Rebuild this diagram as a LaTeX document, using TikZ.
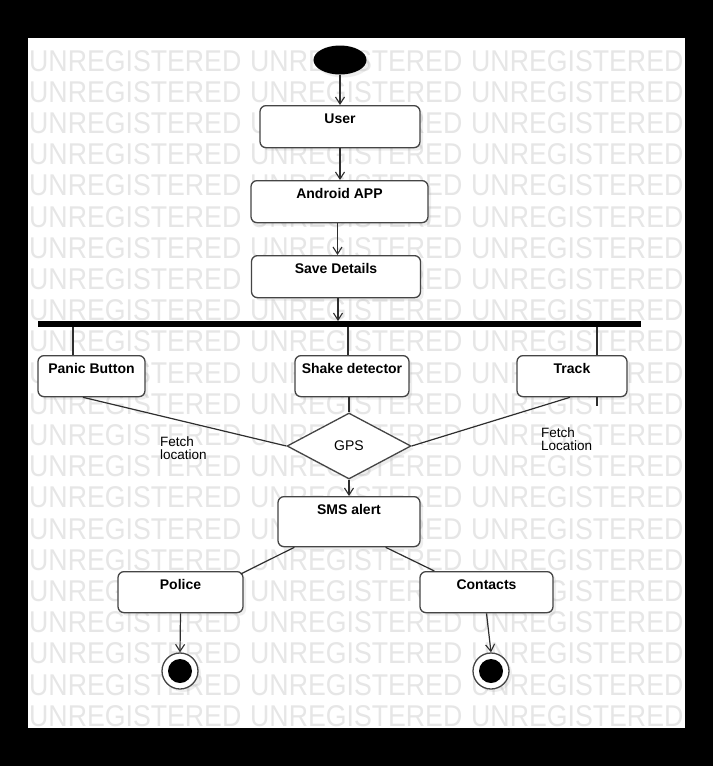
\documentclass[tikz,border=0pt]{standalone}
\usepackage{fontspec}
\setmainfont{Liberation Sans}
\usetikzlibrary{shapes.geometric,arrows.meta,shadows}
\definecolor{edgegray}{HTML}{454545}
\definecolor{wmgray}{HTML}{E6E6E6}
\begin{document}
\begin{tikzpicture}[x=1pt,y=-1pt,
  softshadow/.style={drop shadow={opacity=0.13, shadow xshift=3pt, shadow yshift=-3pt}},
  actbox/.style={draw=edgegray, line width=1.3pt, rounded corners=6pt, fill=white,
    inner xsep=2pt, inner ysep=0pt, text height=18pt, text depth=24pt,
    font=\fontsize{14}{16}\selectfont\bfseries, anchor=north, softshadow},
  wm/.style={text=wmgray, inner sep=0pt, anchor=base west, font=\fontsize{30}{32}\selectfont},
  conn/.style={draw=black!82, line width=1.2pt},
  arr/.style={conn, -{Straight Barb[length=7pt,width=9pt,line width=1.1pt]}},
  lbl/.style={inner sep=0pt, align=left, anchor=base west, font=\fontsize{13.5}{13}\selectfont}
]
% frame
\fill[black] (0,0) rectangle (713,766);
\fill[white] (28,38) rectangle (685,728);
\useasboundingbox (0,0) rectangle (713,766);
% watermark
\begin{scope}
\clip (28,38) rectangle (685,728);
\foreach \r in {0,...,21}{
  \foreach \c in {0,1,2}{
    \node[wm] (wm-\r-\c) at ({29+221*\c},{71+31.2*\r}) {\scalebox{0.89}[1]{UNREGISTERED}};
  }
}
\end{scope}
% nodes
\node[ellipse, fill=black, minimum width=53pt, minimum height=29pt, inner sep=0pt, softshadow] (start) at (340,60) {};
\node[actbox, minimum width=160pt] (user) at (340,105) {User};
\node[actbox, minimum width=177pt] (android) at (339.5,180) {Android APP};
\node[actbox, minimum width=169pt] (save) at (336,255) {Save Details};
\node[fill=black, minimum width=603pt, minimum height=5.5pt, inner sep=0pt] (fork) at (339.5,324) {};
\node[actbox, minimum width=107pt, text depth=23pt] (panic) at (91.5,355) {Panic Button};
\node[actbox, minimum width=114pt, text depth=23pt] (shake) at (352,355) {Shake detector};
\node[actbox, minimum width=110pt, text depth=23pt] (track) at (572,355) {Track};
\node[diamond, draw=edgegray, line width=1.3pt, fill=white, inner sep=0pt, shape aspect=1.9,
  minimum width=124pt, minimum height=66pt, font=\fontsize{14}{16}\selectfont, softshadow] (gps) at (349,446) {GPS};
\node[actbox, minimum width=142pt, text depth=32pt] (sms) at (349,496) {SMS alert};
\node[actbox, minimum width=125pt, text depth=23pt] (police) at (180.5,571) {Police};
\node[actbox, minimum width=133pt, text depth=23pt] (contacts) at (486.5,571) {Contacts};
\node[circle, draw=edgegray, line width=1.3pt, fill=white, minimum size=36pt, inner sep=0pt, softshadow,
  path picture={\fill[black] (path picture bounding box.center) circle (12pt);}] (end1) at (180,671) {};
\node[circle, draw=edgegray, line width=1.3pt, fill=white, minimum size=36pt, inner sep=0pt, softshadow,
  path picture={\fill[black] (path picture bounding box.center) circle (12pt);}] (end2) at (491,671) {};
% labels
\node[lbl] (fetch1) at (160,459) {Fetch\\location};
\node[lbl] (fetch2) at (541,450.5) {Fetch\\Location};
% connectors
\draw[arr] (start) -- (user);
\draw[arr] (user) -- (user.south |- android.north);
\draw[arr] ([xshift=-2pt]android.south) -- ([xshift=-2pt]android.south |- save.north);
\draw[arr] ([xshift=2pt]save.south) -- ([xshift=2pt]save.south |- fork.north);
\draw[conn] ([xshift=-18.5pt]panic.north |- fork.south) -- ([xshift=-18.5pt]panic.north);
\draw[conn] ([xshift=-4pt]shake.north |- fork.south) -- ([xshift=-4pt]shake.north);
\draw[conn] ([xshift=25pt]track.north |- fork.south) -- ([xshift=25pt]track.north);
\draw[conn] ([xshift=25pt]track.south) -- ++(0,9);
\draw[conn] (gps.north |- shake.south) -- (gps.north);
\draw[conn] ([xshift=-8.5pt]panic.south) -- (gps.west);
\draw[conn] ([xshift=-2pt]track.south) -- (gps.east);
\draw[arr] (gps.south) -- (sms.north);
\draw[conn] ([xshift=17pt]sms.south west) -- ([xshift=-3pt,yshift=-3pt]police.north east);
\draw[conn] ([xshift=-35pt]sms.south east) -- ([xshift=15pt]contacts.north west);
\draw[arr] (police.south) -- (end1.north);
\draw[arr] (contacts.south) -- (end2.north);
\end{tikzpicture}
\end{document}
